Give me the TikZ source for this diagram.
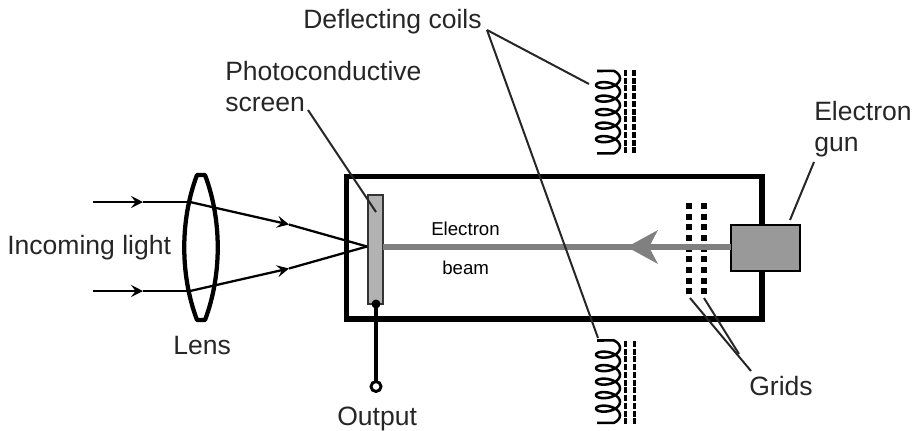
\documentclass[tikz,border=0pt]{standalone}
\usepackage{fontspec}
\setmainfont{Liberation Sans}
\usetikzlibrary{arrows.meta}
\tikzset{
  lab/.style={inner sep=0pt,text=black!85,font=\fontsize{19.9pt}{23.2pt}\selectfont,align=left},
  smalllab/.style={inner sep=0pt,text=black,font=\fontsize{14pt}{17pt}\selectfont},
  leader/.style={line width=1.5pt,black!85},
  ray/.style={line width=1.7pt,black},
  rayhead/.style={ray,-{Stealth[length=9pt,width=9pt,inset=3.5pt]}},
  coil/.style={line width=1.9pt,black,line join=round},
  core/.style={line width=2.4pt,black,dash pattern=on 4.5pt off 1.3pt},
  griddots/.style={line width=4.8pt,black,dash pattern=on 4.6pt off 3.4pt},
  box/.style={inner sep=0pt,outer sep=0pt,anchor=north west},
}
\newcommand{\coilshape}[1]{%
  \begin{scope}[shift={(0,#1)}]
  \draw[coil] (597,71) --
    plot[smooth,samples=129,domain=30:1950,variable=\t] ({608+12*sin(\t)},{75+0.0375*\t-6*cos(\t)})
    -- (597,153.3);
  \end{scope}}
\begin{document}
\begin{tikzpicture}[x=0.75pt,y=-0.75pt]
\useasboundingbox (0,0) rectangle (913,430);
% tube
\node[box,draw=black,line width=3.9pt,minimum width=311.6pt,minimum height=106.9pt] (tube) at (346.5,176.5) {};
% coils
\coilshape{0}
\coilshape{269.5}
\coordinate (c1a) at (625.7,70); \coordinate (c1b) at (625.7,153);
\coordinate (c2a) at (634,70); \coordinate (c2b) at (634,153);
\coordinate (c3a) at (625.7,341); \coordinate (c3b) at (625.7,424);
\coordinate (c4a) at (634.7,341); \coordinate (c4b) at (634.7,424);
\draw[core] (c1a)--(c1b); \draw[core] (c2a)--(c2b);
\draw[core] (c3a)--(c3b); \draw[core] (c4a)--(c4b);
% grids
\coordinate (g1a) at (689,203); \coordinate (g1b) at (689,296);
\coordinate (g2a) at (704,203); \coordinate (g2b) at (704,296);
\draw[griddots] (g1a)--(g1b);
\draw[griddots] (g2a)--(g2b);
% gun
\node[box,draw=black,fill=black!40,line width=2.2pt,minimum width=51.75pt,minimum height=34.5pt] (gun) at (731,225) {};
% screen
\node[box,draw=black!80,fill=black!30,line width=1.6pt,minimum width=11.25pt,minimum height=81.75pt] (screen) at (368,195) {};
% beam
\coordinate (tip) at (627,247);
\draw[line width=3.8pt,black!50] (screen.east |- tip) -- (gun.west |- tip);
\fill[black!50] (tip) -- (658,230) -- (649,247) -- (658,264) -- cycle;
% lens
\draw[line width=3.2pt,black,line join=round] (197,175) -- (205,175) .. controls (222,220) and (222,275) .. (205,320) -- (197,320) .. controls (180,275) and (180,220) .. (197,175) -- cycle;
% rays
\coordinate (r1) at (93,202); \coordinate (r2) at (143,202); \coordinate (r3) at (190,202);
\coordinate (r4) at (289,224.5); \coordinate (f) at (367,246.5);
\coordinate (s1) at (93,291); \coordinate (s2) at (143,291); \coordinate (s3) at (190,291);
\coordinate (s4) at (289,268.5);
\draw[rayhead] (r1)--(r2); \draw[ray] (r2)--(r3); \draw[rayhead] (r3)--(r4); \draw[ray] (r4)--(f);
\draw[rayhead] (s1)--(s2); \draw[ray] (s2)--(s3); \draw[rayhead] (s3)--(s4); \draw[ray] (s4)--(f);
% output
\coordinate (sb) at (376,304);
\node[circle,draw=black,fill=white,line width=2.2pt,minimum size=7.5pt,inner sep=0pt,outer sep=0pt] (out) at (376,386.5) {};
\fill[black] (sb) circle[radius=4.5];
\draw[line width=2.4pt,black] (sb) -- (out.north);
% labels
\node[lab,anchor=west] (ldc) at (303,22) {Deflecting coils};
\node[lab,anchor=north west] (lpc) at (225,61) {Photoconductive\\screen};
\node[lab,anchor=north west] (leg) at (814,101) {Electron\\gun};
\node[lab,anchor=west] (lil) at (7,248) {Incoming light};
\node[lab,anchor=west] (lle) at (173,345) {Lens};
\node[lab,anchor=west] (lou) at (337,419) {Output};
\node[lab,anchor=west] (lgr) at (749,386) {Grids};
\node[smalllab,anchor=west] (leb) at (431,229) {Electron};
\node[smalllab,anchor=west] (lbe) at (442,268) {beam};
% leaders
\coordinate (pa) at (308,110); \coordinate (pb) at (376,212);
\coordinate (da) at (487,30); \coordinate (db) at (589,84); \coordinate (dc) at (598,338);
\coordinate (ea) at (814,162); \coordinate (eb) at (790,220);
\coordinate (ga) at (690,298); \coordinate (gb) at (704,298); \coordinate (gc) at (751,371); \coordinate (gd) at (739,354);
\draw[leader] (pa)--(pb);
\draw[leader] (da)--(db);
\draw[leader] (da)--(dc);
\draw[leader] (ea)--(eb);
\draw[leader] (ga)--(gc);
\draw[leader] (gb)--(gd);
\end{tikzpicture}
\end{document}
